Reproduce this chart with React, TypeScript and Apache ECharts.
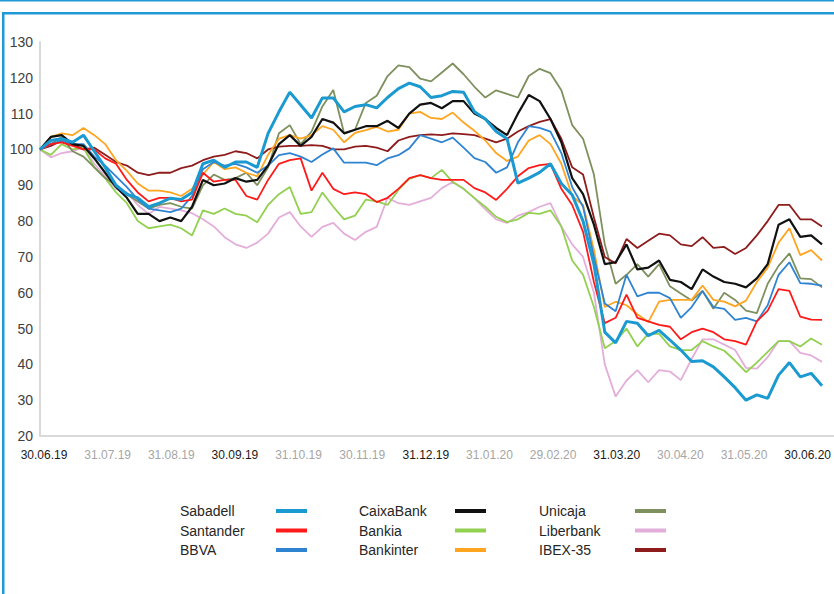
import React, { useEffect, useRef } from "react";
import * as echarts from "echarts";

const FONT = "'Liberation Sans', Arial, sans-serif";

const monthLabels = [
  "30.06.19", "31.07.19", "31.08.19", "30.09.19", "31.10.19", "30.11.19", "31.12.19",
  "31.01.20", "29.02.20", "31.03.20", "30.04.20", "31.05.20", "30.06.20",
];
const darkLabelIdx = [0, 3, 6, 9, 12];
const samplesPerMonth = 6;

const sabadell = [100,102.5,103,102,104,99.5,95,90,87.5,86.5, 84,85,86.4,86,88,96,97,95,96.5,96.5, 95,104.5,110.5,116,112.4,108.8,114.4,114.4,110.5,112, 112.5,111.6,114.5,117,118.5,117.5,114.5,115,116.2,116, 110.5,108.5,105,103,90.6,92,93.6,96,90.5,87.3, 80,68,49,46,52,51.5,48,49.5,46.8,44, 40.8,41,39.3,36.5,33.5,30,31.5,30.5,37,40.5, 36.5,37.5,34];
const santander = [100,101.5,102,101,100,100,97.5,96,91.5,88, 85.5,86.5,86.5,85.5,86,93.5,91,91.5,91.5,87, 86,91.5,96,97,97.5,88.5,93.5,89,87.5,88, 87.5,85.3,86.5,89,92,92.8,92,91.5,91.5,91.5, 89.2,88,85.9,89,92.5,94.8,95.6,96,89,84.5, 77,63,51.5,53,59.5,53,52,51,50.5,47, 49,50,49,47,46.5,45.5,52,55,61,60.5, 53.3,52.5,52.4];
const bbva = [100,101.5,102.5,101.5,101.5,98,95.5,92.5,89.5,86, 83.5,83,82.5,83.5,87,94.5,96.5,95.5,96,95, 93.5,95.5,98.4,99,98,96.5,98.6,100.3,96.3,96.3, 96.3,95.6,97.5,98.4,100.3,104,103,102,103.3,100.5, 97.6,96.5,93.5,95,102,106.5,106,105,99,89.5, 84,70,57,54.8,65,59,60,60,58.5,53, 56,60.5,56,55.5,52.4,53,52,56.5,65,68.5, 62.7,62.5,62];
const caixabank = [100,103.5,104,101.5,101,97.5,93.5,89.5,86.5,82, 82,80,81,80,84,91.5,90,90.5,92,91, 91.5,95.5,101.5,104,101,103.5,108.5,107.5,104.5,105.5, 106.5,106.5,108,106,110,112.5,113,111.5,113.5,113.5, 110,108.5,106,104,110,115.2,113.5,108.5,102,92, 87.5,79,68,68.5,73.5,66.5,67,69,63.6,63, 61,66.5,64.5,63,62.5,61.5,64,68,79,80.5, 75.6,76,73.5];
const bankia = [100,98.5,101.5,100,100.5,95,92,88,85,80, 78,78.5,79,78,76,83,82,83.5,82,81.5, 79.7,84.5,87.5,89.5,82,82.5,88,84,80.5,81.5, 86,85.5,84.5,88.7,91.8,92.8,92,94.3,90.9,89, 86.4,84,81.2,79.7,80.5,82.3,82,83,78.5,69, 65,56,44.5,46.5,50,45,48.5,48.5,45,44, 44,46.5,45,43.8,41,37.8,40.5,43.5,46.5,46.5, 45,47.2,45.5];
const bankinter = [100,103.5,104.5,104,106,104,101.5,97,94,90.5, 88.5,88.5,88,87,89,93,96.5,94.5,95,93.5, 92.5,98.5,103,104,103,104,106.5,105.5,102,104.6, 105.4,106.3,105,105.5,110,110.5,108.8,108.5,110.3,107.5, 105.2,102.5,99,96.8,98,102.5,104,101.5,96,87, 84.5,72,56,57.5,56.5,54,51.8,57.5,58,58, 58,62,58,57.5,56.2,57.8,63,67,74,78, 70.5,71.9,69];
const unicaja = [100,101.5,103.5,99.5,98,95,92,90,87.5,85.5, 83.5,84.5,85,84,83.5,90,93,91.5,92,93.5, 90,95,104.5,106.8,101.5,105,112,116.6,104.5,105.5, 113,115,120.5,123.5,123,119.8,119,121.5,124,121, 117.5,114.5,116.5,115.5,114.5,120.5,122.5,121.3,116.5,106.8, 103,93,73.5,62.5,65,68,64.5,68,61.8,59.8, 57.8,60.5,55.5,60,58,55,54.3,62.5,67.5,71, 64,63.8,61.5];
const liberbank = [100,97.8,99,99.5,100.5,96,92.5,89,88,84.5, 82,84,83.5,83,82.2,80.5,78.5,75.5,73.5,72.5, 74,76.5,81,82.5,78.5,75.6,78.4,79.5,76.5,74.7, 77,78.4,86.5,85,84.5,85.5,86.5,89.2,90.9,89, 86.4,83.3,80.5,79.5,81.5,82.5,84,85,78.5,73.5, 70,60,40,31,35.5,38.4,35,38.4,38,35.6, 41.5,47,47,45.5,44,39,38.8,42,46.5,46.5, 43.2,42.5,40.7];
const ibex35 = [100,101,102.5,101.5,100,100.5,98.5,96.5,95.5,93.5, 92.8,93.5,93.5,94.8,95.5,97,98,98.5,99.5,99, 97.5,100,100.8,101,101,101.2,101,100,100,100.8, 101,100.5,99.5,102.5,103.5,104,104.2,104,104.5,104.3, 104,103,102,103,105,106.5,107.7,108.5,103,95, 93,81,70,68.2,75,72.5,74.5,76.5,76,73.5, 73,75.5,72.5,72.8,70.8,72.5,76,80,84.5,84.5, 80.5,80.5,78.5];

// drawing order (bottom to top)
const seriesDefs = [
  { name: "Liberbank", data: liberbank, color: "#E3AEDA", width: 1.8 },
  { name: "Bankia", data: bankia, color: "#92D050", width: 1.8 },
  { name: "Unicaja", data: unicaja, color: "#7E905E", width: 1.8 },
  { name: "IBEX-35", data: ibex35, color: "#8E1C1C", width: 1.8 },
  { name: "Bankinter", data: bankinter, color: "#FFA520", width: 1.8 },
  { name: "BBVA", data: bbva, color: "#2F84D2", width: 1.8 },
  { name: "Santander", data: santander, color: "#FF1A1A", width: 1.8 },
  { name: "CaixaBank", data: caixabank, color: "#111111", width: 2.2 },
  { name: "Sabadell", data: sabadell, color: "#1A9AD0", width: 3 },
];

const legendColumns = [
  ["Sabadell", "Santander", "BBVA"],
  ["CaixaBank", "Bankia", "Bankinter"],
  ["Unicaja", "Liberbank", "IBEX-35"],
];
const legendLefts = [180, 359, 539];

export default function App() {
  const ref = useRef<HTMLDivElement>(null);

  useEffect(() => {
    if (!ref.current) return;
    const chart = echarts.init(ref.current, undefined, { renderer: "svg" });
    const nSamples = sabadell.length - 1;
    const plotWidth = 782;
    const fullWidth = 794;
    const xMax = (nSamples * fullWidth) / plotWidth;
    const BLUE = "#1E9AD6";

    const option: any = {
      animation: false,
      textStyle: { fontFamily: FONT },
      grid: [
        { left: 40, top: 42, width: fullWidth, height: 394 },
        { left: 44, top: 42, width: 767, height: 394 },
      ],
      xAxis: [
        {
          type: "value", gridIndex: 0, min: 0, max: xMax, interval: samplesPerMonth,
          axisLine: { show: true, lineStyle: { color: "#D9D9D9", width: 2 } },
          axisTick: { show: false }, axisLabel: { show: false }, splitLine: { show: false },
        },
        {
          type: "value", gridIndex: 1, min: 0, max: monthLabels.length - 1, interval: 1,
          axisLine: { show: false }, axisTick: { show: false }, splitLine: { show: false },
          axisLabel: {
            margin: 13,
            fontSize: 12,
            fontFamily: FONT,
            formatter: (v: number) => {
              const k = Math.round(v);
              if (Math.abs(v - k) > 1e-6 || !monthLabels[k]) return "";
              return darkLabelIdx.includes(k) ? `{d|${monthLabels[k]}}` : `{g|${monthLabels[k]}}`;
            },
            rich: {
              d: { color: "#1A1A1A", fontSize: 12, fontFamily: FONT },
              g: { color: "#A6A6A6", fontSize: 12, fontFamily: FONT },
            },
          },
        },
      ],
      yAxis: [
        {
          type: "value", gridIndex: 0, min: 20, max: 130, interval: 10,
          axisLine: { show: true, lineStyle: { color: "#D9D9D9", width: 2 } },
          axisTick: { show: false }, splitLine: { show: false },
          axisLabel: { margin: 7, fontSize: 14, color: "#404040", fontFamily: FONT },
        },
        { type: "value", gridIndex: 1, min: 0, max: 1, show: false },
      ],
      legend: legendColumns.map((names, c) => ({
        data: names,
        orient: "vertical",
        left: legendLefts[c],
        top: 504,
        padding: 0,
        align: "right",
        icon: "rect",
        itemWidth: 31,
        itemHeight: 4,
        itemGap: 5.5,
        selectedMode: false,
        formatter: (name: string) => `{n|${name}}`,
        textStyle: {
          fontSize: 14, color: "#262626", fontFamily: FONT,
          rich: { n: { width: 91, align: "left", fontSize: 14, color: "#262626", fontFamily: FONT } },
        },
      })),
      graphic: [
        { type: "rect", silent: true, shape: { x: 0, y: 0, width: 834, height: 1.5 }, style: { fill: BLUE } },
        { type: "rect", silent: true, shape: { x: 2, y: 12, width: 832, height: 2.5 }, style: { fill: BLUE } },
        { type: "rect", silent: true, shape: { x: 2, y: 12, width: 2.5, height: 582 }, style: { fill: BLUE } },
      ],
      series: seriesDefs.map((s) => ({
        name: s.name,
        type: "line",
        xAxisIndex: 0,
        yAxisIndex: 0,
        showSymbol: false,
        symbol: "none",
        color: s.color,
        lineStyle: { color: s.color, width: s.width },
        emphasis: { disabled: true },
        data: s.data.map((v, i) => [i, v]),
      })),
    };
    chart.setOption(option);
    return () => chart.dispose();
  }, []);

  return (
    <div
      ref={ref}
      style={{ position: "absolute", left: 0, top: 0, width: 834, height: 594, background: "#fff" }}
    />
  );
}
